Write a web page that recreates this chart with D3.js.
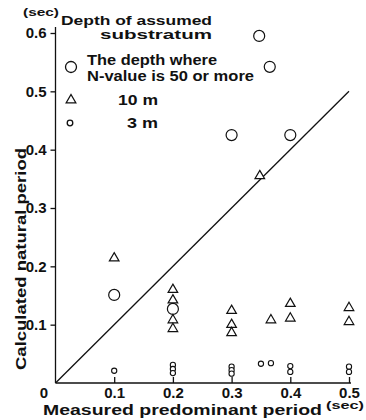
<!DOCTYPE html>
<html><head><meta charset="utf-8">
<script src="https://cdn.jsdelivr.net/npm/d3@7"></script>
<style>
html,body{margin:0;padding:0;background:#fff;}
svg text{font-family:"Liberation Sans",Arial,sans-serif;fill:#111;}
</style></head>
<body><svg id="c" width="366" height="420"></svg>
<script>
// Data
const xTicks = [0.1, 0.2, 0.3, 0.4, 0.5];
const yTicks = [0.1, 0.2, 0.3, 0.4, 0.5, 0.6];

// Depth where N-value is 50 or more (large circles)
const bigX = [0.1, 0.2, 0.3, 0.347, 0.365, 0.4];
const bigY = [0.151, 0.127, 0.425, 0.595, 0.542, 0.425];

// 10 m (triangles)
const triX = [0.1, 0.2, 0.2, 0.2, 0.2, 0.3, 0.3, 0.3, 0.348, 0.367, 0.4, 0.4, 0.5, 0.5];
const triY = [0.214, 0.16, 0.142, 0.108, 0.093, 0.124, 0.1, 0.086, 0.355, 0.108, 0.136, 0.111, 0.129, 0.105];

// 3 m (small circles)
const smX = [0.1, 0.2, 0.2, 0.2, 0.3, 0.3, 0.3, 0.35, 0.367, 0.4, 0.4, 0.5, 0.5];
const smY = [0.021, 0.031, 0.024, 0.017, 0.028, 0.022, 0.016, 0.033, 0.034, 0.029, 0.019, 0.028, 0.019];

// 1:1 reference line
const refLine = [[0, 0], [0.5, 0.5]];

const svg = d3.select("#c");
const x = d3.scaleLinear().domain([0, 0.5]).range([55.5, 349]);
const y = d3.scaleLinear().domain([0, 0.6]).range([383, 33]);
const fmt = d => d3.format(".1f")(d);

// Axes
const gx = svg.append("g").attr("transform", `translate(0,${y(0)})`)
  .call(d3.axisBottom(x).tickValues(xTicks).tickSizeInner(-6).tickSizeOuter(0).tickPadding(4).tickFormat(fmt));
gx.select(".domain").attr("d", `M${x(0)},0H${x(0.5) + 2}`).attr("stroke", "#111").attr("stroke-width", 1.3);
gx.selectAll(".tick line").attr("stroke", "#111").attr("stroke-width", 1.3);
gx.selectAll(".tick text").attr("font-size", 15).attr("font-weight", "bold").attr("fill", "#111").attr("dy", "0.75em");

const gy = svg.append("g").attr("transform", `translate(${x(0)},0)`)
  .call(d3.axisLeft(y).tickValues(yTicks).tickSizeInner(5).tickSizeOuter(0).tickPadding(4).tickFormat(fmt));
gy.select(".domain").attr("d", `M0,${y(0)}V${y(0.6) - 6}`).attr("stroke", "#111").attr("stroke-width", 1.3);
gy.selectAll(".tick line").attr("stroke", "#111").attr("stroke-width", 1.3);
gy.selectAll(".tick text").attr("font-size", 15).attr("font-weight", "bold").attr("fill", "#111");

svg.append("text").attr("x", 44).attr("y", 398).attr("text-anchor", "middle")
  .attr("font-size", 15).attr("font-weight", "bold").text("0");

// Reference line
svg.append("path").datum(refLine)
  .attr("d", d3.line().x(d => x(d[0])).y(d => y(d[1])))
  .attr("fill", "none").attr("stroke", "#111").attr("stroke-width", 1.3);

// Marks
const big = bigX.map((v, i) => [v, bigY[i]]);
const tri = triX.map((v, i) => [v, triY[i]]);
const sm = smX.map((v, i) => [v, smY[i]]);

svg.append("g").selectAll("circle").data(big).join("circle")
  .attr("cx", d => x(d[0])).attr("cy", d => y(d[1])).attr("r", 5.5)
  .attr("fill", "#fff").attr("stroke", "#111").attr("stroke-width", 1.2);

const triSym = d3.symbol().type(d3.symbolTriangle).size(40);
svg.append("g").selectAll("path").data(tri).join("path")
  .attr("transform", d => `translate(${x(d[0])},${y(d[1])})`)
  .attr("d", triSym).attr("fill", "#fff").attr("stroke", "#111").attr("stroke-width", 1.2);

svg.append("g").selectAll("circle").data(sm).join("circle")
  .attr("cx", d => x(d[0])).attr("cy", d => y(d[1])).attr("r", 2.6)
  .attr("fill", "#fff").attr("stroke", "#111").attr("stroke-width", 1.1);

// Titles / legend
function t(xp, yp, s, size, len, anchor) {
  const el = svg.append("text").attr("x", xp).attr("y", yp).attr("font-size", size)
    .attr("font-weight", "bold").attr("text-anchor", anchor || "start").text(s);
  if (len) el.attr("textLength", len).attr("lengthAdjust", "spacingAndGlyphs");
  return el;
}
t(23, 16, "(sec)", 10.5, 36);
t(61, 25, "Depth of assumed", 13, 151);
t(100, 39, "substratum", 13, 112);
svg.append("circle").attr("cx", 71).attr("cy", 67).attr("r", 5.5)
  .attr("fill", "#fff").attr("stroke", "#111").attr("stroke-width", 1.3);
t(87, 65, "The depth where", 14, 130);
t(87, 81, "N-value is 50 or more", 14, 167);
svg.append("path").attr("transform", "translate(71,100)").attr("d", triSym)
  .attr("fill", "#fff").attr("stroke", "#111").attr("stroke-width", 1.3);
t(118, 105, "10 m", 14, 40);
svg.append("circle").attr("cx", 70).attr("cy", 123).attr("r", 2.8)
  .attr("fill", "#fff").attr("stroke", "#111").attr("stroke-width", 1.3);
t(127, 128, "3 m", 14, 31);

// Axis titles
t(43, 415, "Measured predominant period", 14, 279);
t(326, 409, "(sec)", 10, 38);
svg.append("text").attr("transform", "translate(26,259) rotate(-90)")
  .attr("text-anchor", "middle").attr("font-size", 14).attr("font-weight", "bold")
  .attr("textLength", 222).attr("lengthAdjust", "spacingAndGlyphs")
  .text("Calculated natural period");
</script></body></html>
